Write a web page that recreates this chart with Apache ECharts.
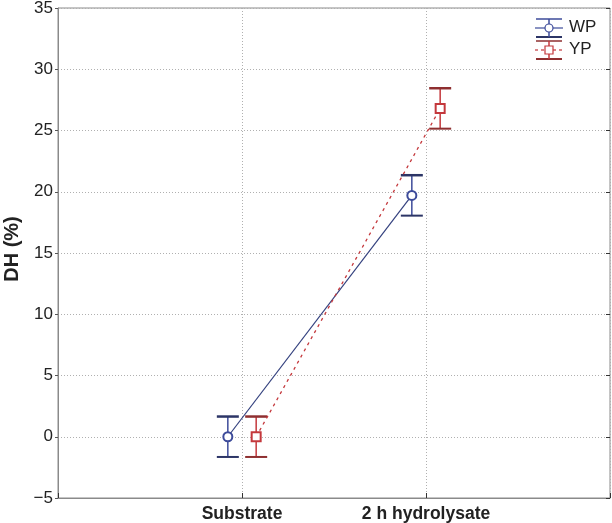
<!DOCTYPE html>
<html><head><meta charset="utf-8">
<script src="https://cdn.jsdelivr.net/npm/echarts@6/dist/echarts.min.js"></script>
<style>html,body{margin:0;padding:0;background:#fff}#c{width:612px;height:523px}</style>
</head><body><div id="c"></div>
<script>
const categories = ['Substrate', '2 h hydrolysate'];
const seriesNames = ['WP', 'YP'];
const wpMean = [0, 19.7];
const wpErr = [1.65, 1.65];
const ypMean = [0, 26.8];
const ypErr = [1.65, 1.65];
const yTicks = [-5, 0, 5, 10, 15, 20, 25, 30, 35];

const OFF = 0.077;
const colors = {WP: '#3d4b9a', YP: '#c4383c'};
const capColors = {WP: '#2c3566', YP: '#8e2f30'};

function pts(mean, off) { return mean.map((v, i) => [i + 1 + off, v]); }
function errData(mean, err, off) { return mean.map((v, i) => [i + 1 + off, v - err[i], v + err[i]]); }

function errSeries(name, data) {
  return {
    type: 'custom', name: name + '_err', silent: true, z: 3,
    data: data,
    renderItem: function (params, api) {
      const x = api.value(0);
      const lo = api.coord([x, api.value(1)]);
      const hi = api.coord([x, api.value(2)]);
      const hw = 11;
      return {
        type: 'group', children: [
          {type: 'line', shape: {x1: lo[0], y1: lo[1], x2: hi[0], y2: hi[1]}, style: {stroke: colors[name], lineWidth: 1.5}},
          {type: 'line', shape: {x1: hi[0] - hw, y1: hi[1], x2: hi[0] + hw, y2: hi[1]}, style: {stroke: capColors[name], lineWidth: 2.5}},
          {type: 'line', shape: {x1: lo[0] - hw, y1: lo[1], x2: lo[0] + hw, y2: lo[1]}, style: {stroke: capColors[name], lineWidth: 2}}
        ]
      };
    }
  };
}

const chart = echarts.init(document.getElementById('c'));
const font = 'Liberation Sans, Arial, Helvetica, sans-serif';
const lx = 549;
function legendIcon(name, cy, symbolShape) {
  const c = colors[name], cc = capColors[name];
  return [
    {type: 'line', shape: {x1: lx - 13, y1: cy - 9, x2: lx + 13, y2: cy - 9}, style: {stroke: name === 'WP' ? c : cc, lineWidth: 1.5}},
    {type: 'line', shape: {x1: lx - 13, y1: cy + 9, x2: lx + 13, y2: cy + 9}, style: {stroke: cc, lineWidth: 2}},
    {type: 'line', shape: {x1: lx, y1: cy - 9, x2: lx, y2: cy + 9}, style: {stroke: c, lineWidth: 1.5}},
    {type: 'line', shape: {x1: lx - 14, y1: cy, x2: lx + 14, y2: cy}, style: {stroke: c, lineWidth: 1.2, lineDash: name === 'YP' ? [3, 3] : null}},
    symbolShape
  ];
}
chart.setOption({
  animation: false,
  grid: {left: 58, right: 2, top: 8, bottom: 25, show: true, borderColor: '#8a8a8a', borderWidth: 1, outerBoundsMode: 'none', containLabel: false},
  xAxis: {
    type: 'value', min: 0, max: 3, interval: 1,
    axisLine: {show: true, onZero: false, lineStyle: {color: '#8a8a8a'}},
    axisTick: {show: true, inside: true, length: 5, lineStyle: {color: '#333'}},
    axisLabel: {formatter: v => categories[v - 1] || '', color: '#222', fontSize: 17.5, fontWeight: 'bold', fontFamily: font, margin: 7},
    splitLine: {show: true, lineStyle: {color: '#b0b0b0', type: [1, 2], width: 1}}
  },
  yAxis: [{
    type: 'value', min: yTicks[0], max: yTicks[yTicks.length - 1], interval: 5,
    name: 'DH (%)', nameLocation: 'middle', nameGap: 35, nameRotate: 90,
    nameTextStyle: {fontSize: 20, fontWeight: 'bold', color: '#222', fontFamily: font, padding: [0, 0, 0, 8]},
    axisLine: {show: true, lineStyle: {color: '#8a8a8a'}},
    axisTick: {show: true, length: 3, lineStyle: {color: '#555'}},
    axisLabel: {formatter: v => String(v).replace('-', '\u2212'), color: '#222', fontSize: 17, fontFamily: font, margin: 5},
    splitLine: {show: true, lineStyle: {color: '#b0b0b0', type: [1, 2], width: 1}}
  }, {
    type: 'value', position: 'right', min: yTicks[0], max: yTicks[yTicks.length - 1], interval: 5,
    axisLine: {show: false}, axisLabel: {show: false}, splitLine: {show: false},
    axisTick: {show: true, inside: true, length: 4, lineStyle: {color: '#333'}}
  }],
  graphic: [].concat(
    legendIcon('WP', 28, {type: 'circle', shape: {cx: lx, cy: 28, r: 4}, style: {fill: '#fff', stroke: colors.WP, lineWidth: 1.2}}),
    legendIcon('YP', 50, {type: 'rect', shape: {x: lx - 4, y: 46, width: 8, height: 8}, style: {fill: '#fff', stroke: colors.YP, lineWidth: 1.2}}),
    [
      {type: 'text', left: 569, top: 19, style: {text: seriesNames[0], font: '17px ' + font, fill: '#222'}},
      {type: 'text', left: 569, top: 41, style: {text: seriesNames[1], font: '17px ' + font, fill: '#222'}}
    ]
  ),
  series: [
    errSeries('WP', errData(wpMean, wpErr, -OFF)),
    errSeries('YP', errData(ypMean, ypErr, OFF)),
    {type: 'line', name: 'WP', data: pts(wpMean, -OFF), symbol: 'emptyCircle', symbolSize: 9, z: 4,
      lineStyle: {color: '#33407e', width: 1.2}, itemStyle: {color: colors.WP, borderWidth: 1.3}},
    {type: 'line', name: 'YP', data: pts(ypMean, OFF), symbol: 'emptyRect', symbolSize: 9, z: 4,
      lineStyle: {color: colors.YP, width: 1.3, type: [3, 4]}, itemStyle: {color: colors.YP, borderWidth: 1.3}}
  ]
});
</script></body></html>
